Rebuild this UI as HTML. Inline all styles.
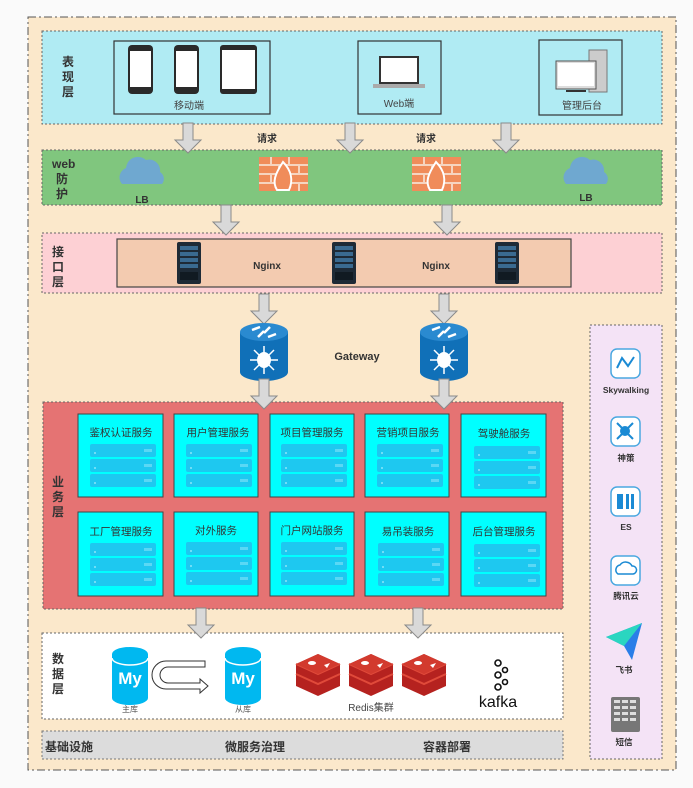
<!DOCTYPE html>
<html><head><meta charset="utf-8"><style>
html,body{margin:0;padding:0;background:#fafafa;}
svg{display:block;font-family:"Liberation Sans","Noto Sans CJK SC",sans-serif;}
</style></head><body>
<svg width="693" height="788" viewBox="0 0 693 788" xmlns="http://www.w3.org/2000/svg">
<defs>
<g id="arr"><path d="M-5,0H5V17H13L0,30L-13,17H-5Z" fill="#d9d9d9" stroke="#8a8a8a" stroke-width="1"/></g>
<g id="srv">
<rect x="0" y="0" width="24" height="42" rx="2" fill="#1e2a36"/>
<rect x="3" y="4" width="18" height="4" fill="#3a6a90"/><rect x="3" y="10" width="18" height="4" fill="#3a6a90"/><rect x="3" y="16" width="18" height="4" fill="#3a6a90"/><rect x="3" y="22" width="18" height="4" fill="#3a6a90"/>
<rect x="3" y="30" width="18" height="8" fill="#111a22"/>
</g>
<g id="stack">
<rect x="0" y="0" width="66" height="13" rx="2" fill="#1ec8f0"/><rect x="0" y="15" width="66" height="13" rx="2" fill="#1ec8f0"/><rect x="0" y="30" width="66" height="13" rx="2" fill="#1ec8f0"/>
<rect x="54" y="5" width="8" height="3" fill="#5ad8f5"/><rect x="54" y="20" width="8" height="3" fill="#5ad8f5"/><rect x="54" y="35" width="8" height="3" fill="#5ad8f5"/>
<circle cx="5" cy="9" r="1" fill="#8ae6fa"/><circle cx="5" cy="24" r="1" fill="#8ae6fa"/><circle cx="5" cy="39" r="1" fill="#8ae6fa"/>
</g>
<g id="router">
<path d="M-24,-20V20A24,9 0 0 0 24,20V-20Z" fill="#1070b8"/>
<ellipse cx="0" cy="-20" rx="24" ry="9" fill="#2a8ad0"/>
<path d="M-12,-22l8,-3M12,-18l-8,3M-6,-15l6,-6M6,-25l-6,6" stroke="#fff" stroke-width="2.5"/>
<ellipse cx="0" cy="8" rx="7" ry="8" fill="#fff"/>
<path d="M0,-6V22M-14,8H14M-10,-2L10,18M10,-2L-10,18" stroke="#fff" stroke-width="1.5"/>
</g>
<g id="fire">
<rect x="0" y="0" width="49" height="34" fill="#f08c5a"/>
<path d="M0,8H49M0,17H49M0,26H49M12,0V8M30,0V8M20,8V17M40,8V17M12,17V26M30,17V26M20,26V34M40,26V34" stroke="#f6d4c0" stroke-width="2"/>
<path d="M24,5C33,14 34,24 30,33H18C13,25 16,17 24,5Z" fill="#f08c5a" stroke="#fff" stroke-width="2"/>
</g>
<g id="cloud"><path d="M-20,12A10,10 0 0 1 -16,-4A12,12 0 0 1 4,-12A11,11 0 0 1 18,0A8,8 0 0 1 20,12Z" fill="#6fa8d0"/></g>
<g id="my"><path d="M-18,-22V22A18,7 0 0 0 18,22V-22Z" fill="#00b8f0"/><ellipse cx="0" cy="-22" rx="18" ry="7" fill="#00b8f0"/><path d="M-18,-18A18,7 0 0 0 18,-18" stroke="#fff" stroke-width="1.5" fill="none"/><text x="0" y="8" text-anchor="middle" font-size="17" font-weight="bold" fill="#fff">My</text></g>
<g id="redis"><path d="M-22,-6L0,-16L22,-6V16L0,26L-22,16Z" fill="#b5221f"/><path d="M-22,-6L0,4L22,-6M-22,4L0,14L22,4" stroke="#e04a3a" stroke-width="2" fill="none"/><path d="M-22,-6L0,-16L22,-6L0,4Z" fill="#d23a2e"/><ellipse cx="-6" cy="-7" rx="4" ry="2" fill="#fff"/><path d="M6,-5l6,-2l-3,5z" fill="#fff"/></g>
</defs>
<rect x="28" y="17" width="648" height="753" fill="#fbe8cb" stroke="#555" stroke-width="1" stroke-dasharray="8,3,2,3"/>

<!-- presentation -->
<rect x="42" y="31" width="620" height="93" fill="#b0ebf3" stroke="#666" stroke-dasharray="2,2"/>
<text x="62" y="66" font-size="12" font-weight="bold" fill="#333">表</text><text x="62" y="81" font-size="12" font-weight="bold" fill="#333">现</text><text x="62" y="96" font-size="12" font-weight="bold" fill="#333">层</text>
<rect x="114" y="41" width="156" height="73" fill="none" stroke="#333" stroke-width="1.2"/>
<rect x="128" y="45" width="25" height="49" rx="4" fill="#2a2a2a"/><rect x="130" y="51" width="21" height="36" fill="#fff"/>
<rect x="174" y="45" width="25" height="49" rx="4" fill="#2a2a2a"/><rect x="176" y="51" width="21" height="36" fill="#fff"/>
<rect x="220" y="45" width="37" height="49" rx="3" fill="#2a2a2a"/><rect x="222" y="50" width="33" height="39" fill="#fff"/>
<text x="189" y="109" font-size="10" text-anchor="middle" fill="#444">移动端</text>
<rect x="358" y="41" width="83" height="73" fill="none" stroke="#333" stroke-width="1.2"/>
<rect x="379" y="56" width="40" height="28" fill="#333"/><rect x="381" y="58" width="36" height="24" fill="#fff"/><rect x="373" y="84" width="52" height="4" fill="#aaa"/>
<text x="399" y="107" font-size="10" text-anchor="middle" fill="#444">Web端</text>
<rect x="539" y="40" width="83" height="75" fill="none" stroke="#333" stroke-width="1.2"/>
<rect x="589" y="50" width="18" height="42" fill="#ccc" stroke="#777"/><rect x="556" y="61" width="40" height="28" fill="#ddd" stroke="#555"/><rect x="558" y="63" width="36" height="23" fill="#fff"/><rect x="566" y="90" width="20" height="2" fill="#333"/>
<text x="582" y="109" font-size="10" text-anchor="middle" fill="#444">管理后台</text>

<text x="267" y="142" font-size="10" font-weight="bold" text-anchor="middle" fill="#333">请求</text>
<text x="426" y="142" font-size="10" font-weight="bold" text-anchor="middle" fill="#333">请求</text>

<!-- web -->
<rect x="42" y="150" width="620" height="55" fill="#80c67e" stroke="#666" stroke-dasharray="2,2"/>
<text x="52" y="168" font-size="12" font-weight="bold" fill="#333">web</text><text x="56" y="183" font-size="12" font-weight="bold" fill="#333">防</text><text x="56" y="198" font-size="12" font-weight="bold" fill="#333">护</text>
<use href="#cloud" x="142" y="172"/><use href="#cloud" x="586" y="172"/>
<text x="142" y="203" font-size="10" font-weight="bold" text-anchor="middle" fill="#333">LB</text>
<text x="586" y="201" font-size="10" font-weight="bold" text-anchor="middle" fill="#333">LB</text>
<use href="#fire" x="259" y="157"/><use href="#fire" x="412" y="157"/>

<!-- interface -->
<rect x="42" y="233" width="620" height="60" fill="#fdd0d4" stroke="#666" stroke-dasharray="2,2"/>
<text x="52" y="256" font-size="12" font-weight="bold" fill="#333">接</text><text x="52" y="271" font-size="12" font-weight="bold" fill="#333">口</text><text x="52" y="286" font-size="12" font-weight="bold" fill="#333">层</text>
<rect x="117" y="239" width="454" height="48" fill="#f3cbb0" stroke="#444" stroke-width="1.2"/>
<use href="#srv" x="177" y="242"/><use href="#srv" x="332" y="242"/><use href="#srv" x="495" y="242"/>
<text x="267" y="269" font-size="10" font-weight="bold" text-anchor="middle" fill="#333">Nginx</text>
<text x="436" y="269" font-size="10" font-weight="bold" text-anchor="middle" fill="#333">Nginx</text>
<text x="357" y="360" font-size="11" font-weight="bold" text-anchor="middle" fill="#333">Gateway</text>

<!-- business -->
<rect x="43" y="402" width="520" height="207" fill="#e57373" stroke="#666" stroke-dasharray="2,2"/>
<text x="52" y="486" font-size="12" font-weight="bold" fill="#333">业</text><text x="52" y="501" font-size="12" font-weight="bold" fill="#333">务</text><text x="52" y="516" font-size="12" font-weight="bold" fill="#333">层</text>
<g font-size="10.5" fill="#333" text-anchor="middle">
<rect x="78" y="414" width="85" height="83" fill="#00ffff" stroke="#444"/><text x="121" y="436">鉴权认证服务</text><use href="#stack" x="90" y="444"/>
<rect x="174" y="414" width="84" height="83" fill="#00ffff" stroke="#444"/><text x="218" y="436">用户管理服务</text><use href="#stack" x="186" y="444"/>
<rect x="270" y="414" width="84" height="83" fill="#00ffff" stroke="#444"/><text x="312" y="436">项目管理服务</text><use href="#stack" x="281" y="444"/>
<rect x="365" y="414" width="84" height="83" fill="#00ffff" stroke="#444"/><text x="408" y="436">营销项目服务</text><use href="#stack" x="377" y="444"/>
<rect x="461" y="414" width="85" height="83" fill="#00ffff" stroke="#444"/><text x="504" y="437">驾驶舱服务</text><use href="#stack" x="474" y="446"/>
<rect x="78" y="512" width="85" height="84" fill="#00ffff" stroke="#444"/><text x="121" y="535">工厂管理服务</text><use href="#stack" x="90" y="543"/>
<rect x="174" y="512" width="84" height="84" fill="#00ffff" stroke="#444"/><text x="216" y="534">对外服务</text><use href="#stack" x="186" y="542"/>
<rect x="270" y="512" width="84" height="84" fill="#00ffff" stroke="#444"/><text x="312" y="534">门户网站服务</text><use href="#stack" x="281" y="542"/>
<rect x="365" y="512" width="84" height="84" fill="#00ffff" stroke="#444"/><text x="408" y="535">易吊装服务</text><use href="#stack" x="378" y="543"/>
<rect x="461" y="512" width="85" height="84" fill="#00ffff" stroke="#444"/><text x="504" y="535">后台管理服务</text><use href="#stack" x="474" y="544"/>
</g>

<!-- data -->
<rect x="42" y="633" width="521" height="86" fill="#fff" stroke="#666" stroke-dasharray="2,2"/>
<text x="52" y="663" font-size="12" font-weight="bold" fill="#333">数</text><text x="52" y="678" font-size="12" font-weight="bold" fill="#333">据</text><text x="52" y="693" font-size="12" font-weight="bold" fill="#333">层</text>
<use href="#my" x="130" y="676"/><use href="#my" x="243" y="676"/>
<path d="M205,667H168A8,8 0 0 0 168,683H200V679L208,686L200,693V689H166A14,14 0 0 1 166,661H205Z" fill="#fff" stroke="#333"/>
<text x="130" y="712" font-size="8" text-anchor="middle" fill="#555">主库</text>
<text x="243" y="712" font-size="8" text-anchor="middle" fill="#555">从库</text>
<use href="#redis" x="318" y="670"/><use href="#redis" x="371" y="670"/><use href="#redis" x="424" y="670"/>
<text x="371" y="711" font-size="10" text-anchor="middle" fill="#444">Redis集群</text>
<g stroke="#111" stroke-width="1.6" fill="none"><circle cx="498" cy="663" r="3"/><circle cx="498" cy="675" r="3"/><circle cx="498" cy="687" r="3"/><circle cx="505" cy="670" r="2.5"/><circle cx="505" cy="682" r="2.5"/></g>
<text x="498" y="707" font-size="16" text-anchor="middle" fill="#111">kafka</text>

<!-- base -->
<rect x="42" y="731" width="521" height="28" fill="#dcdcdc" stroke="#777" stroke-dasharray="2,2"/>
<text x="45" y="751" font-size="12" font-weight="bold" fill="#333">基础设施</text>
<text x="255" y="751" font-size="12" font-weight="bold" text-anchor="middle" fill="#333">微服务治理</text>
<text x="447" y="751" font-size="12" font-weight="bold" text-anchor="middle" fill="#333">容器部署</text>

<!-- right -->
<rect x="590" y="325" width="72" height="434" fill="#f4e3f6" stroke="#666" stroke-dasharray="2,2"/>
<g fill="#fff" stroke="#4aa8e0" stroke-width="1.5">
<rect x="611" y="349" width="29" height="29" rx="6"/><rect x="611" y="417" width="29" height="29" rx="6"/><rect x="611" y="487" width="29" height="29" rx="6"/><rect x="611" y="556" width="29" height="29" rx="6"/>
</g>
<path d="M617,368L622,358L628,366L634,357" stroke="#1a8ad4" stroke-width="2" fill="none"/>
<circle cx="625" cy="431" r="5" fill="#1a8ad4"/><path d="M617,423L633,439M633,423L617,439" stroke="#1a8ad4" stroke-width="2"/>
<rect x="617" y="494" width="6" height="15" fill="#1a8ad4"/><rect x="626" y="494" width="3" height="15" fill="#1a8ad4"/><rect x="631" y="494" width="3" height="15" fill="#1a8ad4"/>
<path d="M618,574A5,5 0 0 1 620,565A7,7 0 0 1 632,566A4,4 0 0 1 633,574Z" fill="none" stroke="#1a8ad4" stroke-width="1.5"/>
<path d="M606,637L642,623L632,660L624,646Z" fill="#2a7ee8"/><path d="M606,637L624,646L642,623Z" fill="#2ad6c0"/>
<rect x="611" y="697" width="29" height="35" rx="2" fill="#777"/>
<g fill="#ddd"><rect x="614" y="700" width="6" height="3"/><rect x="622" y="700" width="6" height="3"/><rect x="630" y="700" width="6" height="3"/><rect x="614" y="706" width="6" height="3"/><rect x="622" y="706" width="6" height="3"/><rect x="630" y="706" width="6" height="3"/><rect x="614" y="712" width="6" height="3"/><rect x="622" y="712" width="6" height="3"/><rect x="630" y="712" width="6" height="3"/><rect x="614" y="718" width="6" height="3"/><rect x="622" y="718" width="6" height="3"/><rect x="630" y="718" width="6" height="3"/></g>
<g font-size="8.5" font-weight="bold" text-anchor="middle" fill="#333">
<text x="626" y="393">Skywalking</text><text x="626" y="461">神策</text><text x="626" y="530">ES</text><text x="626" y="599">腾讯云</text><text x="624" y="673">飞书</text><text x="624" y="745">短信</text>
</g>

<!-- arrows on top -->
<use href="#arr" x="188" y="123"/><use href="#arr" x="350" y="123"/><use href="#arr" x="506" y="123"/>
<use href="#arr" x="226" y="205"/><use href="#arr" x="447" y="205"/>
<use href="#arr" x="264" y="294"/><use href="#arr" x="444" y="294"/>
<use href="#router" x="264" y="352"/><use href="#router" x="444" y="352"/>
<use href="#arr" x="264" y="379"/><use href="#arr" x="444" y="379"/>
<use href="#arr" x="201" y="608"/><use href="#arr" x="418" y="608"/>
</svg>
</body></html>
